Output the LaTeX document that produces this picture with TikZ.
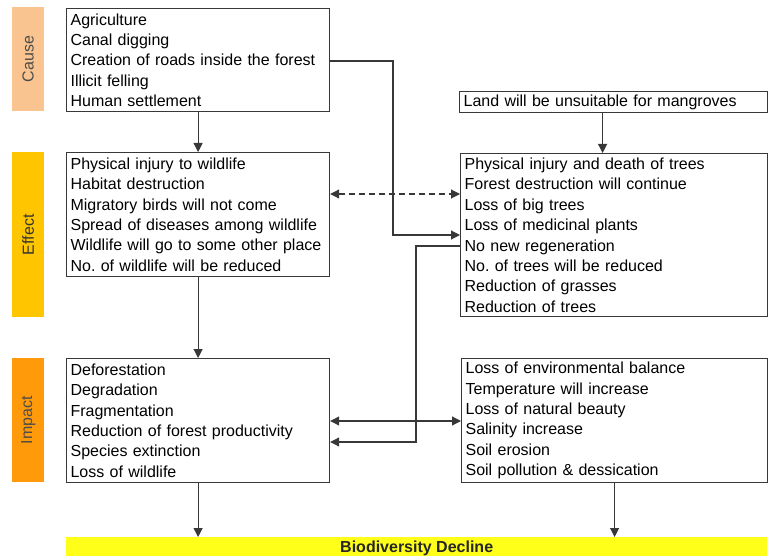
\documentclass[tikz,border=0pt]{standalone}
\usepackage{fontspec}
\setmainfont{Liberation Sans}
\usetikzlibrary{arrows.meta}
\definecolor{causec}{HTML}{F9C48F}
\definecolor{effectc}{HTML}{FFC600}
\definecolor{impactc}{HTML}{FF9A0A}
\definecolor{bioc}{HTML}{FFFF1A}
\definecolor{linec}{HTML}{383838}
\frenchspacing
\tikzset{
  box/.style={draw=linec, line width=1.2pt, anchor=north west, align=left,
    inner xsep=4pt, inner ysep=0pt, font=\fontsize{16}{20.4}\selectfont},
  bar/.style={anchor=north west, minimum width=32pt, inner sep=0pt},
  bartext/.style={rotate=90, font=\fontsize{16}{18}\selectfont},
  conn/.style={draw=linec, line width=1.1pt},
  tip/.style={-{Triangle[length=9pt,width=9pt]}},
  dtip/.style={{Triangle[length=9pt,width=9pt]}-{Triangle[length=9pt,width=9pt]}},
}
\begin{document}
\begin{tikzpicture}[x=1pt,y=-1pt]
\useasboundingbox (0,0) rectangle (768,556);
% side bars
\node[bar, fill=causec, minimum height=104pt] (causebar) at (12,7) {};
\node[bartext, text=black!70] at (causebar) {Cause};
\node[bar, fill=effectc, minimum height=165pt] (effectbar) at (12,152) {};
\node[bartext, text=black!80] at (effectbar) {Effect};
\node[bar, fill=impactc, minimum height=124pt] (impactbar) at (12,358) {};
\node[bartext, text=black!70] at (impactbar) {Impact};
% boxes
\node[box, text width=255pt, minimum height=103pt] (cause) at (66,8)
 {Agriculture\\Canal digging\\Creation of roads inside the forest\\Illicit felling\\Human settlement};
\node[box, text width=300pt, minimum height=21pt] (land) at (459,91)
 {Land will be unsuitable for mangroves};
\node[box, text width=255pt, minimum height=124pt] (effL) at (66,152)
 {Physical injury to wildlife\\Habitat destruction\\Migratory birds will not come\\Spread of diseases among wildlife\\Wildlife will go to some other place\\No. of wildlife will be reduced};
\node[box, text width=299pt, minimum height=163pt] (effR) at (460,153)
 {Physical injury and death of trees\\Forest destruction will continue\\Loss of big trees\\Loss of medicinal plants\\No new regeneration\\No. of trees will be reduced\\Reduction of grasses\\Reduction of trees};
\node[box, text width=255pt, minimum height=124pt] (impL) at (66,358)
 {Deforestation\\Degradation\\Fragmentation\\Reduction of forest productivity\\Species extinction\\Loss of wildlife};
\node[box, text width=298pt, minimum height=124pt] (impR) at (461,358)
 {Loss of environmental balance\\Temperature will increase\\Loss of natural beauty\\Salinity increase\\Soil erosion\\Soil pollution \& dessication};
\node[anchor=north west, fill=bioc, minimum width=701pt, minimum height=19pt, inner sep=0pt,
  text depth=0pt, font=\fontsize{16}{18}\selectfont\bfseries, text=black!85] (bio) at (66,537) {Biodiversity Decline};
% connectors
\draw[conn, tip] (cause.south) -- (effL.north);
\draw[conn, tip] ([xshift=-11pt]land.south) -- ([xshift=-11pt]land.south |- effR.north);
\draw[conn, tip] (cause.east |- 0,61) -- (393,61) -- (393,235) -- (effR.west |- 0,235);
\draw[conn, dtip, dash pattern=on 6pt off 4pt] (effL.east |- 0,194) -- (effR.west |- 0,194);
\draw[conn, tip] (effR.west |- 0,246) -- (416,246) -- (416,442) -- (impL.east |- 0,442);
\draw[conn, dtip] (impL.east |- 0,421) -- (impR.west |- 0,421);
\draw[conn, tip] (effL.south) -- (impL.north);
\draw[conn, tip] (impL.south) -- (impL.south |- bio.north);
\draw[conn, tip] (impR.south) -- (impR.south |- bio.north);
\end{tikzpicture}
\end{document}
